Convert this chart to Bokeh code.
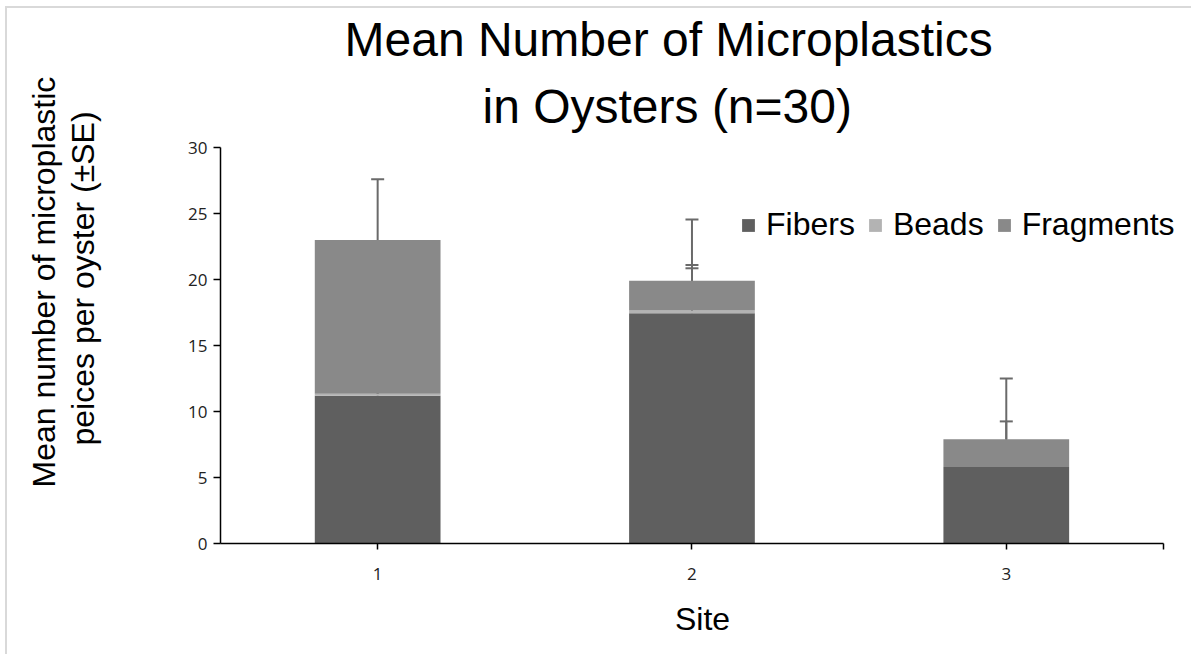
import numpy as np
from bokeh.plotting import figure
from bokeh.models import (ColumnDataSource, Range1d, FixedTicker, Whisker, TeeHead,
                          Title, Legend, LegendItem)
from bokeh.embed import file_html
from bokeh.resources import INLINE

# ---- data ----
sites = [1, 2, 3]
site_labels = ["1", "2", "3"]
series = ["Fibers", "Beads", "Fragments"]
fibers = [11.2, 17.45, 5.8]
beads = [0.15, 0.2, 0.0]
fragments = [11.65, 2.25, 2.1]
fibers_se = [3.2, 3.4, 3.45]
beads_se = [3.25, 3.45, 0.0]
fragments_se = [4.6, 4.65, 4.6]
colors = ["#5f5f5f", "#b3b3b3", "#898989"]

title_lines = ["Mean Number of Microplastics", "in Oysters (n=30)"]
ylabel_lines = ["Mean number of microplastic", "peices per oyster (\u00b1SE)"]
xlabel = "Site"

p = figure(width=1186, height=648, output_backend="svg", toolbar_location=None,
           x_range=Range1d(0.5, 3.567), y_range=Range1d(0, 30),
           min_border_left=213, min_border_right=9, min_border_top=139,
           min_border_bottom=113)
p.styles = {"margin-left": "5px", "margin-top": "6px",
            "border-left": "2px solid #d9d9d9", "border-top": "2px solid #d9d9d9"}
p.outline_line_color = None
p.xgrid.grid_line_color = None
p.ygrid.grid_line_color = None
p.background_fill_color = "white"
p.border_fill_color = "white"

src = ColumnDataSource(dict(site=sites, Fibers=fibers, Beads=beads, Fragments=fragments))
rs = p.vbar_stack(series, x="site", width=0.4, color=colors, source=src, line_width=0)

# error bars (upper only, from top of each segment)
vals = np.array([fibers, beads, fragments])
ses = np.array([fibers_se, beads_se, fragments_se])
tops = np.cumsum(vals, axis=0)
for i in range(3):
    mask = ses[i] > 0
    ws = ColumnDataSource(dict(x=np.array(sites)[mask], lower=tops[i][mask],
                               upper=(tops[i] + ses[i])[mask]))
    w = Whisker(base="x", lower="lower", upper="upper", dimension="height", source=ws,
                line_color="#6a6a6a", line_width=2,
                upper_head=TeeHead(size=13, line_color="#6a6a6a", line_width=2),
                lower_head=None)
    p.add_layout(w)

# axes
xa = p.xaxis[0]
xa.bounds = (0.5, 3.5)
xa.ticker = FixedTicker(ticks=[1, 2, 3, 3.5])
xa.major_label_overrides = {1: site_labels[0], 2: site_labels[1], 3: site_labels[2], 3.5: ""}
xa.minor_tick_line_color = None
xa.major_tick_in = 0
xa.major_tick_out = 6
xa.axis_line_color = "black"
xa.axis_line_width = 1.5
xa.major_tick_line_color = "black"
xa.major_tick_line_width = 1.5
xa.major_label_text_font = "Open Sans"
xa.major_label_text_font_size = "17px"
xa.major_label_text_color = "#222222"
xa.major_label_standoff = 18
xa.axis_label = xlabel
xa.axis_label_text_font = "Liberation Sans"
xa.axis_label_text_font_style = "normal"
xa.axis_label_text_font_size = "32px"
xa.axis_label_text_color = "black"
xa.axis_label_standoff = 18

ya = p.yaxis[0]
ya.ticker = FixedTicker(ticks=[0, 5, 10, 15, 20, 25, 30])
ya.minor_tick_line_color = None
ya.major_tick_in = 0
ya.major_tick_out = 7
ya.axis_line_color = "black"
ya.axis_line_width = 1.5
ya.major_tick_line_color = "black"
ya.major_tick_line_width = 1.5
ya.major_label_text_font = "Open Sans"
ya.major_label_text_font_size = "17px"
ya.major_label_text_color = "#222222"
ya.major_label_standoff = 6

# legend
legend = Legend(items=[LegendItem(label=s, renderers=[r]) for s, r in zip(series, rs)],
                orientation="horizontal", location=(520, 300),
                label_text_font="Liberation Sans", label_text_font_size="32px",
                label_text_color="black",
                glyph_width=16, glyph_height=16, label_standoff=10, spacing=12,
                padding=0, margin=0, border_line_color=None, background_fill_alpha=0)
p.add_layout(legend)

# title (two lines): titles added later sit nearer the frame
p.title.text = title_lines[0]
p.title.align = "left"
p.title.text_font = "Liberation Sans"
p.title.text_font_size = "48px"
p.title.text_font_style = "normal"
p.title.text_color = "black"
p.title.offset = 124
p.title.standoff = -4
t2 = Title(text=title_lines[1], align="left", text_font="Liberation Sans",
           text_font_size="48px", text_font_style="normal", text_color="black",
           offset=262, standoff=29)
p.add_layout(t2, "above")

# y axis title (two lines, rotated); panels stack outward from the axis
p.add_layout(Title(text=" ", text_font_size="32px", standoff=46), "left")  # gap
for txt, sd, off in zip(ylabel_lines[::-1], [2, 0], [98, 56]):
    p.add_layout(Title(text=txt, align="left", text_font="Liberation Sans",
                       text_font_size="32px", text_font_style="normal",
                       text_color="black", offset=off, standoff=sd), "left")

open("out.html", "w").write(file_html(p, INLINE))
